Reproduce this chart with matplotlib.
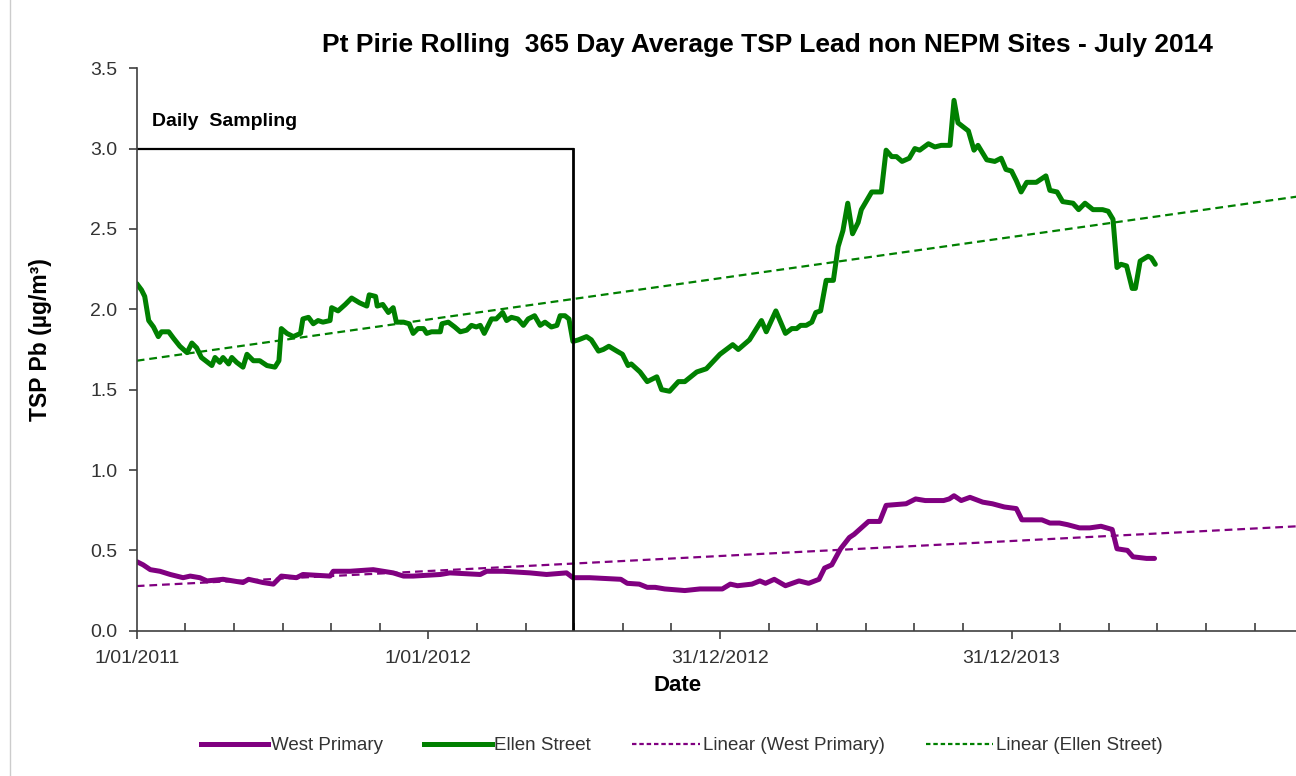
import matplotlib
matplotlib.use('Agg')
import matplotlib.pyplot as plt
import matplotlib.ticker as mticker
from matplotlib.lines import Line2D
import numpy as np

plt.rcParams['font.family'] = ['Liberation Sans', 'DejaVu Sans']

# rolling 365 day averages, days counted from 1/01/2011
ellen_days = [0, 6, 10, 15, 21, 27, 31, 40, 46, 54, 63, 69, 75, 81, 94, 98, 104, 108, 115, 119,
              125, 133, 138, 146, 154, 163, 173, 178, 181, 188, 196, 205, 208, 215, 221, 227, 233,
              242, 244, 252, 261, 269, 279, 288, 291, 299, 301, 308, 315, 321, 325, 334, 341, 346,
              352, 359, 363, 369, 380, 382, 390, 398, 405, 413, 419, 425, 430, 435, 440, 444, 450,
              458, 463, 469, 477, 484, 490, 498, 505, 511, 519, 526, 530, 536, 541, 546, 553, 563,
              569, 578, 584, 591, 601, 608, 615, 619, 630, 639, 651, 657, 667, 678, 686, 701, 713,
              730, 746, 753, 767, 782, 788, 800, 812, 820, 826, 831, 838, 845, 850, 856, 863, 872,
              878, 884, 890, 896, 903, 907, 920, 932, 938, 945, 951, 958, 967, 974, 980, 991, 999,
              1007, 1018, 1023, 1028, 1041, 1048, 1053, 1064, 1074, 1082, 1088, 1095, 1101, 1107,
              1114, 1126, 1138, 1143, 1152, 1159, 1172, 1179, 1187, 1197, 1209, 1216, 1222, 1227,
              1232, 1239, 1246, 1250, 1256, 1266, 1270, 1275]
ellen_pb = [2.16, 2.12, 2.08, 1.93, 1.89, 1.83, 1.86, 1.86, 1.82, 1.77, 1.73, 1.79, 1.76, 1.70,
            1.65, 1.70, 1.67, 1.70, 1.66, 1.70, 1.67, 1.64, 1.72, 1.68, 1.68, 1.65, 1.64, 1.68,
            1.88, 1.85, 1.83, 1.85, 1.94, 1.95, 1.91, 1.93, 1.92, 1.93, 2.01, 1.99, 2.03, 2.07,
            2.04, 2.02, 2.09, 2.08, 2.02, 2.03, 1.98, 2.01, 1.92, 1.92, 1.91, 1.85, 1.88, 1.88,
            1.85, 1.86, 1.86, 1.91, 1.92, 1.89, 1.86, 1.87, 1.90, 1.89, 1.90, 1.85, 1.90, 1.94,
            1.94, 1.98, 1.93, 1.95, 1.94, 1.90, 1.94, 1.96, 1.90, 1.92, 1.89, 1.90, 1.96, 1.96,
            1.94, 1.80, 1.81, 1.83, 1.81, 1.74, 1.75, 1.77, 1.74, 1.72, 1.65, 1.66, 1.61, 1.55,
            1.58, 1.50, 1.49, 1.55, 1.55, 1.61, 1.63, 1.72, 1.78, 1.75, 1.81, 1.93, 1.86, 1.99,
            1.85, 1.88, 1.88, 1.90, 1.90, 1.92, 1.98, 1.99, 2.18, 2.18, 2.39, 2.49, 2.66, 2.47,
            2.54, 2.62, 2.73, 2.73, 2.99, 2.95, 2.95, 2.92, 2.94, 3.00, 2.99, 3.03, 3.01, 3.02,
            3.02, 3.30, 3.16, 3.11, 2.99, 3.02, 2.93, 2.92, 2.94, 2.87, 2.86, 2.80, 2.73, 2.79,
            2.79, 2.83, 2.74, 2.73, 2.67, 2.66, 2.62, 2.66, 2.62, 2.62, 2.61, 2.56, 2.26, 2.28,
            2.27, 2.13, 2.13, 2.30, 2.33, 2.32, 2.28]

west_days = [0, 8, 17, 29, 42, 58, 67, 79, 88, 108, 133, 140, 158, 171, 181, 200, 208, 242, 246,
             267, 296, 321, 334, 346, 380, 392, 430, 438, 459, 492, 513, 538, 546, 567, 606, 614,
             629, 639, 649, 661, 686, 705, 733, 743, 752, 770, 780, 787, 798, 812, 829, 841, 854,
             861, 870, 881, 892, 898, 916, 930, 938, 963, 975, 987, 1010, 1017, 1023, 1032, 1043,
             1059, 1071, 1086, 1101, 1108, 1133, 1143, 1155, 1165, 1180, 1193, 1207, 1221, 1227,
             1240, 1247, 1264, 1274]
west_pb = [0.43, 0.41, 0.38, 0.37, 0.35, 0.33, 0.34, 0.33, 0.31, 0.32, 0.30, 0.32, 0.30, 0.29,
           0.34, 0.33, 0.35, 0.34, 0.37, 0.37, 0.38, 0.36, 0.34, 0.34, 0.35, 0.36, 0.35, 0.37,
           0.37, 0.36, 0.35, 0.36, 0.33, 0.33, 0.32, 0.295, 0.29, 0.27, 0.27, 0.26, 0.25, 0.26,
           0.26, 0.29, 0.28, 0.29, 0.31, 0.295, 0.32, 0.28, 0.31, 0.295, 0.32, 0.39, 0.41, 0.51,
           0.58, 0.60, 0.68, 0.68, 0.78, 0.79, 0.82, 0.81, 0.81, 0.82, 0.84, 0.81, 0.83, 0.80,
           0.79, 0.77, 0.76, 0.69, 0.69, 0.67, 0.67, 0.66, 0.64, 0.64, 0.65, 0.63, 0.51, 0.50,
           0.46, 0.45, 0.45]

# linear trendlines: value at 1/01/2011 and change per day
west_trend = [0.278, 0.000256]
ellen_trend = [1.68, 0.000703]

daily_end_day = 546      # end of the daily sampling period (30/06/2012)
daily_box_top = 3.0
major_labels = ['1/01/2011', '1/01/2012', '31/12/2012', '31/12/2013']

start = np.datetime64('2011-01-01')
ellen_dates = start + np.array(ellen_days).astype('timedelta64[D]')
west_dates = start + np.array(west_days).astype('timedelta64[D]')

axis_days = np.array([0, 1460])
axis_dates = start + axis_days.astype('timedelta64[D]')
west_fit = west_trend[0] + west_trend[1] * axis_days
ellen_fit = ellen_trend[0] + ellen_trend[1] * axis_days

fig = plt.figure(figsize=(12.96, 7.76), dpi=100)
ax = fig.add_axes([0.1055, 0.1872, 0.9000, 0.7249])

purple = '#800080'
green = '#008000'
ax.plot(west_dates, west_pb, color=purple, lw=3.6, solid_capstyle='round', solid_joinstyle='round')
ax.plot(ellen_dates, ellen_pb, color=green, lw=3.6, solid_capstyle='round', solid_joinstyle='round')
ax.plot(axis_dates, west_fit, color=purple, lw=1.6, dashes=(3.5, 2.2))
ax.plot(axis_dates, ellen_fit, color=green, lw=1.6, dashes=(3.5, 2.2))

# daily sampling period box
box_end = start + np.timedelta64(daily_end_day, 'D')
ax.plot([start, box_end], [daily_box_top, daily_box_top], color='black', lw=1.6)
ax.plot([box_end, box_end], [0, daily_box_top], color='black', lw=2.0)
ax.text(start + np.timedelta64(19, 'D'), 3.17, 'Daily  Sampling', fontsize=14,
        fontweight='bold', va='center', ha='left')

ax.set_xlim(start, start + np.timedelta64(1460, 'D'))
ax.set_ylim(0, 3.5)
ax.yaxis.set_major_locator(mticker.MultipleLocator(0.5))
ax.yaxis.set_major_formatter(mticker.FormatStrFormatter('%.1f'))

major_pos = [matplotlib.dates.date2num(start + np.timedelta64(365 * k, 'D')) for k in range(4)]
minor_pos = [matplotlib.dates.date2num(start) + k * 365 / 6 for k in range(24) if k % 6]
ax.set_xticks(major_pos)
ax.set_xticklabels(major_labels)
ax.set_xticks(minor_pos, minor=True)

for side in ['top', 'right']:
    ax.spines[side].set_visible(False)
for side in ['left', 'bottom']:
    ax.spines[side].set_color('#404040')
    ax.spines[side].set_linewidth(1.2)
ax.tick_params(axis='y', direction='out', length=6, width=1.2, color='#404040',
               labelsize=14, labelcolor='#333333', pad=8)
ax.tick_params(axis='x', which='major', direction='out', length=6, width=1.2, color='#404040',
               labelsize=14, labelcolor='#333333', pad=8)
ax.tick_params(axis='x', which='minor', direction='in', length=6, width=1.2, color='#404040')

fig.text(0.592, 0.942, 'Pt Pirie Rolling  365 Day Average TSP Lead non NEPM Sites - July 2014',
         ha='center', va='center', fontsize=19, fontweight='bold')
fig.text(0.031, 0.563, 'TSP Pb (µg/m³)', rotation=90, ha='center', va='center',
         fontsize=16.5, fontweight='bold')
fig.text(0.523, 0.116, 'Date', ha='center', va='center', fontsize=16, fontweight='bold')

handles = [Line2D([], [], color=purple, lw=3.6),
           Line2D([], [], color=green, lw=3.6),
           Line2D([], [], color=purple, lw=1.6, dashes=(2, 1.3)),
           Line2D([], [], color=green, lw=1.6, dashes=(2, 1.3))]
labels = ['West Primary', 'Ellen Street', 'Linear (West Primary)', 'Linear (Ellen Street)']
fig.legend(handles, labels, loc='center', bbox_to_anchor=(0.526, 0.039), ncol=4, frameon=False,
           fontsize=13.5, handlelength=3.6, handletextpad=0.15, columnspacing=2.2,
           labelcolor='#333333')

# outer chart border on the left
fig.add_artist(Line2D([10 / 1296, 10 / 1296], [0, 1], color='#cccccc', lw=1.0))

fig.savefig('out.png', dpi=100)
